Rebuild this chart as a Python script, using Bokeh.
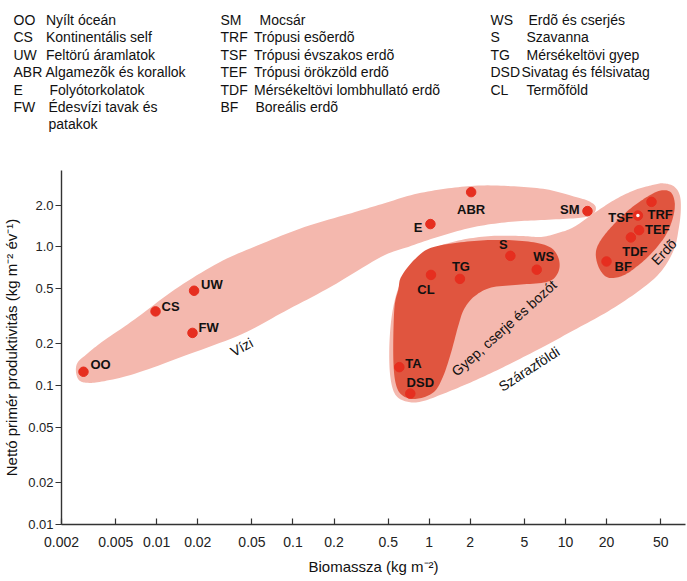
import numpy as np
from bokeh.plotting import figure
from bokeh.models import ColumnDataSource, FixedTicker, Range1d
from bokeh.layouts import column
from bokeh.embed import file_html
from bokeh.resources import INLINE
from bokeh.core.properties import value

# ---------------- data ----------------
codes = ["OO", "CS", "UW", "FW", "E", "ABR", "SM", "TSF", "TRF", "TEF", "TDF", "BF",
         "S", "WS", "TG", "CL", "TA", "DSD"]
biomass = [0.0029, 0.0098, 0.0188, 0.0183, 1.02, 2.03, 14.5, 34.0, 42.8, 34.7, 30.2, 20.0,
           3.94, 6.15, 1.68, 1.03, 0.603, 0.726]
npp = [0.126, 0.343, 0.483, 0.240, 1.46, 2.48, 1.81, 1.68, 2.11, 1.32, 1.17, 0.785,
       0.862, 0.685, 0.588, 0.628, 0.136, 0.0877]
hollow = ["TSF"]

x_ticks = [0.002, 0.005, 0.01, 0.02, 0.05, 0.1, 0.2, 0.5, 1, 2, 5, 10, 20, 50]
x_tick_labels = ["0.002", "0.005", "0.01", "0.02", "0.05", "0.1", "0.2", "0.5", "1", "2",
                 "5", "10", "20", "50"]
y_ticks = [0.01, 0.02, 0.05, 0.1, 0.2, 0.5, 1.0, 2.0]
y_tick_labels = ["0.01", "0.02", "0.05", "0.1", "0.2", "0.5", "1.0", "2.0"]

# region outlines (biomass, productivity)
aquatic_x = [0.00264, 0.00307, 0.00395, 0.0069, 0.01355, 0.0285, 0.0559, 0.1214, 0.268, 0.445,
             0.776, 1.38, 2.40, 4.20, 7.20, 11.5, 14.9, 16.7, 15.6, 11.9, 6.62, 3.79, 2.14,
             1.22, 0.702, 0.445, 0.191, 0.0867, 0.042, 0.016, 0.0069, 0.00395, 0.00307,
             0.00268, 0.00255]
aquatic_y = [0.148, 0.169, 0.206, 0.301, 0.493, 0.769, 1.03, 1.39, 1.75, 2.03, 2.39, 2.64,
             2.77, 2.73, 2.60, 2.31, 2.13, 1.93, 1.69, 1.61, 1.56, 1.51, 1.39, 1.20, 1.0,
             0.848, 0.518, 0.343, 0.235, 0.164, 0.122, 0.107, 0.105, 0.110, 0.128]

terr_x = [51.8, 62.4, 69.0, 70.2, 67.9, 62.4, 50.1, 35.7, 20.5, 11.5, 6.62, 3.66, 2.21, 1.33,
          0.874, 0.679, 0.564, 0.518, 0.509, 0.527, 0.573, 0.656, 0.803, 1.088, 1.72, 2.85,
          4.72, 6.62, 8.81, 11.5, 16.2, 22.7, 31.7, 42.3]
terr_y = [2.87, 2.73, 2.35, 1.84, 1.37, 0.952, 0.663, 0.493, 0.343, 0.251, 0.187, 0.139,
          0.110, 0.0891, 0.0769, 0.0769, 0.0862, 0.116, 0.184, 0.301, 0.454, 0.631, 0.821,
          0.984, 1.122, 1.198, 1.198, 1.179, 1.259, 1.39, 1.75, 2.17, 2.55, 2.77]

gyep_x = [0.623, 0.776, 1.03, 1.80, 3.20, 5.59, 7.83, 8.96, 8.81, 7.45, 4.72, 2.85, 2.14,
          1.80, 1.63, 1.45, 1.27, 1.088, 0.831, 0.656, 0.573, 0.545, 0.554, 0.593]
gyep_y = [0.610, 0.807, 0.984, 1.086, 1.122, 1.086, 0.984, 0.807, 0.652, 0.562, 0.535, 0.509,
          0.439, 0.355, 0.268, 0.175, 0.118, 0.0906, 0.0807, 0.0834, 0.1, 0.156, 0.355, 0.493]

erdo_x = [18.2, 22.7, 30.2, 40.2, 50.1, 59.3, 63.4, 61.3, 54.5, 43.8, 34.0, 26.4, 20.5, 17.6, 16.7]
erdo_y = [1.122, 1.46, 1.90, 2.31, 2.55, 2.47, 2.06, 1.61, 1.218, 0.921, 0.732, 0.621, 0.601,
          0.708, 0.906]

region_names = ["Vízi", "Gyep, cserje és bozót", "Szárazföldi", "Erdõ"]
region_name_x = [0.042, 3.54, 5.40, 52.7]
region_name_y = [0.190, 0.260, 0.132, 0.921]
region_name_angle = [28, 42, 33, 47]

# legend
col1_codes = ["OO", "CS", "UW", "ABR", "E", "FW", ""]
col1_names = ["Nyílt óceán", "Kontinentális self", "Feltörú áramlatok", "Algamezõk és korallok",
              "Folyótorkolatok", "Édesvízi tavak és", "patakok"]
col2_codes = ["SM", "TRF", "TSF", "TEF", "TDF", "BF"]
col2_names = ["Mocsár", "Trópusi esõerdõ", "Trópusi évszakos erdõ", "Trópusi örökzöld erdõ",
              "Mérsékeltövi lombhullató erdõ", "Boreális erdõ"]
col3_codes = ["WS", "S", "TG", "DSD", "CL"]
col3_names = ["Erdõ és cserjés", "Szavanna", "Mérsékeltövi gyep", "Sivatag és félsivatag",
              "Termõföld"]

# ---------------- layout / style ----------------
FONT = value("Liberation Sans")
LIGHT = "#f4b8ae"
DARK = "#e0553f"
DOT = "#e62e1f"
W = 687

label_dx = [7, 6, 7, 6, -8, 0, -8, -5, -4, 6, 4, 8, -7, 7, 1, -5, 6, 10]
label_dy = [-7, -5, -6, -5, 3, 17, -2, 2, 13, -1, 14, 5, -11, -13, -12, 15, -4, -11]
label_align = ["left", "left", "left", "left", "right", "center", "right", "right", "left",
               "left", "center", "left", "center", "center", "center", "center", "left", "center"]


def smooth_closed(xs, ys, n=10):
    P = np.column_stack([np.log10(xs), np.log10(ys)])
    m = len(P)
    out = []
    for i in range(m):
        p0, p1, p2, p3 = P[(i - 1) % m], P[i], P[(i + 1) % m], P[(i + 2) % m]
        for t in np.linspace(0, 1, n, endpoint=False):
            t2, t3 = t * t, t * t * t
            out.append(0.5 * ((2 * p1) + (-p0 + p2) * t + (2 * p0 - 5 * p1 + 4 * p2 - p3) * t2
                              + (-p0 + 3 * p1 - 3 * p2 + p3) * t3))
    out = np.array(out)
    return 10 ** out[:, 0], 10 ** out[:, 1]


# ---------------- legend panel ----------------
LEG_H = 158
leg = figure(width=W, height=LEG_H, x_range=Range1d(0, W), y_range=Range1d(LEG_H, 0),
             x_axis_location=None, y_axis_location=None,
             output_backend="svg", toolbar_location=None, min_border=0)
leg.frame_align = False
leg.grid.visible = False
leg.outline_line_color = None

row_y0, row_h = 19.5, 17.4


def leg_col(codes_, names_, code_x, name_x):
    ys = [row_y0 + row_h * i for i in range(len(codes_))]
    leg.text(x=[code_x] * len(codes_), y=ys, text=codes_, text_font=FONT, text_font_size="14px",
             text_baseline="middle", text_color="#111111")
    leg.text(x=name_x, y=ys, text=names_, text_font=FONT, text_font_size="14px",
             text_baseline="middle", text_color="#111111")


leg_col(col1_codes, col1_names, 13, [45.5, 45.5, 45.5, 45, 49, 48, 48])
leg_col(col2_codes, col2_names, 220, [259, 253.5, 253.5, 253.5, 253.5, 255])
leg_col(col3_codes, col3_names, 490, [528, 526, 526, 521, 526])

# ---------------- main figure ----------------
p = figure(width=W, height=419, x_axis_type="log", y_axis_type="log",
           x_range=Range1d(0.002, 76), y_range=Range1d(0.01, 3.55),
           output_backend="svg", toolbar_location=None,
           min_border_left=59, min_border_right=2, min_border_top=12, min_border_bottom=50)
p.frame_align = False
p.outline_line_color = None
p.grid.visible = False

for xs, ys, col in [(aquatic_x, aquatic_y, LIGHT), (terr_x, terr_y, LIGHT),
                    (gyep_x, gyep_y, DARK), (erdo_x, erdo_y, DARK)]:
    sx, sy = smooth_closed(xs, ys)
    p.patch(sx, sy, fill_color=col, line_color=None)

src = ColumnDataSource(dict(x=biomass, y=npp, code=codes, dx=label_dx, dy=label_dy,
                            align=label_align))
p.scatter("x", "y", source=src, size=9.5, fill_color=DOT, line_color=DOT)
hx = [b for b, c in zip(biomass, codes) if c in hollow]
hy = [v for v, c in zip(npp, codes) if c in hollow]
p.scatter(hx, hy, size=3.5, fill_color="white", line_color=None)

p.text("x", "y", text="code", source=src, x_offset="dx", y_offset="dy", text_align="align",
       text_baseline="middle", text_font=FONT, text_font_size="13px", text_font_style="bold",
       text_color="#111111")

p.text(x=region_name_x, y=region_name_y, text=region_names,
       angle=[np.radians(a) for a in region_name_angle], text_align="center",
       text_baseline="middle", text_font=FONT, text_font_size="14px", text_color="#111111")

# axes
p.xaxis.ticker = FixedTicker(ticks=x_ticks)
p.xaxis.major_label_overrides = dict(zip(x_ticks, x_tick_labels))
p.yaxis.ticker = FixedTicker(ticks=y_ticks)
p.yaxis.major_label_overrides = dict(zip(y_ticks, y_tick_labels))

p.xaxis.axis_label = "Biomassza (kg m⁻²)"
p.yaxis.axis_label = "Nettó primér produktivitás (kg m⁻² év⁻¹)"

for ax in (p.xaxis[0], p.yaxis[0]):
    ax.axis_line_color = "#333333"
    ax.axis_line_width = 1.4
    ax.major_tick_line_color = "#333333"
    ax.major_tick_line_width = 1.2
    ax.minor_tick_line_color = None
    ax.major_label_text_font = "Liberation Sans"
    ax.major_label_text_color = "#222222"
    ax.axis_label_text_font = "Liberation Sans"
    ax.axis_label_text_font_style = "normal"
    ax.axis_label_text_font_size = "15px"
    ax.axis_label_text_color = "#111111"

p.xaxis.major_tick_in = 6
p.xaxis.major_tick_out = 0
p.xaxis.major_label_text_font_size = "14px"
p.xaxis.major_label_standoff = 12
p.xaxis.axis_label_standoff = 8

p.yaxis.major_tick_in = 0
p.yaxis.major_tick_out = 6
p.yaxis.major_label_text_font_size = "13px"
p.yaxis.major_label_standoff = 2
p.yaxis.axis_label_standoff = 5

layout = column(leg, p, spacing=0)
open("out.html", "w").write(file_html(layout, INLINE))
